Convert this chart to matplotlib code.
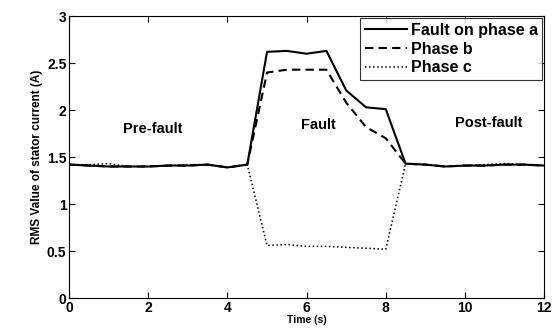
import numpy as np
import matplotlib
matplotlib.use('Agg')
import matplotlib.pyplot as plt

plt.rcParams['font.family'] = ['Liberation Sans', 'DejaVu Sans']
plt.rcParams['font.weight'] = 'bold'

# time samples (s) and RMS stator current (A)
t = [0, 0.5, 1, 1.5, 2, 2.5, 3, 3.5, 4, 4.5, 5, 5.5, 6, 6.5, 7, 7.5, 8, 8.5,
     9, 9.5, 10, 10.5, 11, 11.5, 12]
phase_a = [1.42, 1.41, 1.40, 1.40, 1.40, 1.41, 1.41, 1.42, 1.39, 1.42, 2.62, 2.63, 2.60, 2.63,
           2.21, 2.03, 2.01, 1.43, 1.42, 1.40, 1.41, 1.41, 1.42, 1.42, 1.41]
phase_b = [1.42, 1.41, 1.40, 1.40, 1.40, 1.41, 1.41, 1.42, 1.39, 1.42, 2.40, 2.43, 2.43, 2.43,
           2.08, 1.82, 1.70, 1.43, 1.42, 1.40, 1.41, 1.41, 1.42, 1.42, 1.41]
phase_c = [1.42, 1.42, 1.43, 1.40, 1.40, 1.41, 1.42, 1.42, 1.39, 1.42, 0.56, 0.57, 0.55, 0.55,
           0.54, 0.53, 0.52, 1.43, 1.42, 1.40, 1.41, 1.42, 1.43, 1.42, 1.41]

fig = plt.figure(figsize=(5.58, 3.29), dpi=100)
ax = fig.add_axes([0.124, 0.094, 0.851, 0.857])

ax.plot(t, phase_a, '-', color='black', lw=1.5, label='Fault on phase a')
ax.plot(t, phase_b, '--', color='black', lw=1.5, dashes=(4, 2.5), label='Phase b')
ax.plot(t, phase_c, ':', color='black', lw=1.1, label='Phase c')

ax.text(2.1, 1.8, 'Pre-fault', ha='center', va='center', fontsize=10.5, fontweight='bold')
ax.text(6.3, 1.84, 'Fault', ha='center', va='center', fontsize=10.5, fontweight='bold')
ax.text(10.6, 1.86, 'Post-fault', ha='center', va='center', fontsize=10.5, fontweight='bold')

ax.set_xlim(0, 12)
ax.set_ylim(0, 3)
ax.set_xticks(np.arange(0, 13, 2))
ax.set_yticks(np.arange(0, 3.01, 0.5))
ax.set_yticklabels(['0', '0.5', '1', '1.5', '2', '2.5', '3'])
ax.tick_params(direction='in', top=True, right=True, labelsize=10, length=4, width=0.8, pad=2)
for s in ax.spines.values():
    s.set_linewidth(0.8)

ax.set_xlabel('Time (s)', fontsize=7.5, fontweight='bold', labelpad=0)
ax.set_ylabel('RMS Value of stator current (A)', fontsize=8.5, fontweight='bold', labelpad=3)

leg = ax.legend(loc='upper right', fontsize=11.5, frameon=True, fancybox=False,
                handlelength=2.6, handletextpad=0.25, borderpad=0.3, labelspacing=0.25,
                borderaxespad=0.1)
leg.get_frame().set_edgecolor('black')
leg.get_frame().set_linewidth(0.8)

fig.savefig('out.png', dpi=100)
